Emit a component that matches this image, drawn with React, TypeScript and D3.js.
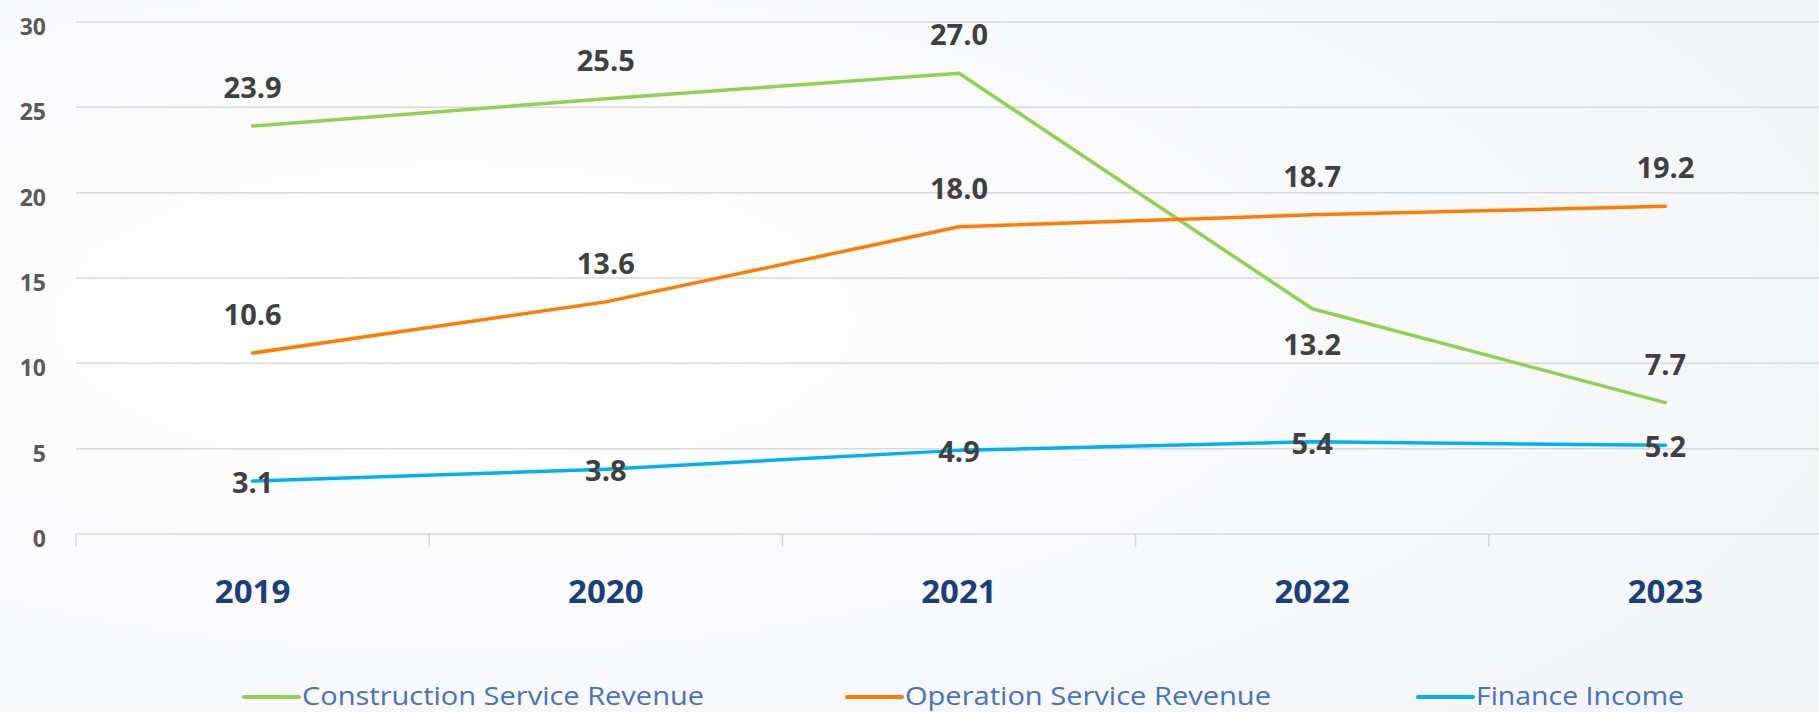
import React, { useEffect, useRef } from 'react';
import * as d3 from 'd3';

// chart data
const years = ['2019', '2020', '2021', '2022', '2023'];
const construction = [23.9, 25.5, 27.0, 13.2, 7.7];
const operation = [10.6, 13.6, 18.0, 18.7, 19.2];
const finance = [3.1, 3.8, 4.9, 5.4, 5.2];
const yTicks = [0, 5, 10, 15, 20, 25, 30];
const seriesNames = ['Construction Service Revenue', 'Operation Service Revenue', 'Finance Income'];

const W = 1819, H = 712;

export default function App() {
  const ref = useRef<SVGSVGElement>(null);

  useEffect(() => {
    const svg = d3.select(ref.current);
    svg.selectAll('*').remove();

    const font = "'Open Sans', 'DejaVu Sans', sans-serif";

    // background
    const defs = svg.append('defs');
    const grad = defs.append('radialGradient')
      .attr('id', 'bg').attr('cx', '0.25').attr('cy', '0.45').attr('r', '0.9');
    grad.append('stop').attr('offset', '0%').attr('stop-color', '#FFFFFF');
    grad.append('stop').attr('offset', '100%').attr('stop-color', '#F3F4F7');
    svg.append('rect').attr('width', W).attr('height', H).attr('fill', 'url(#bg)');

    const x = d3.scaleBand().domain(years).range([76, 1842]).padding(0);
    const y = d3.scaleLinear().domain([0, 30]).range([534, 22]);
    const cx = (d: string) => (x(d) as number) + x.bandwidth() / 2;

    // gridlines
    svg.append('g').selectAll('line').data(yTicks).enter().append('line')
      .attr('x1', 76).attr('x2', W)
      .attr('y1', d => y(d)).attr('y2', d => y(d))
      .attr('stroke', '#D9D9D9').attr('stroke-width', 1.5);

    // category tick marks
    const bounds = years.map(d => x(d) as number).concat([1842]);
    svg.append('g').selectAll('line').data(bounds).enter().append('line')
      .attr('x1', d => d).attr('x2', d => d)
      .attr('y1', y(0)).attr('y2', y(0) + 13)
      .attr('stroke', '#D9D9D9').attr('stroke-width', 1.5);

    // y labels
    svg.append('g').selectAll('text').data(yTicks).enter().append('text')
      .attr('x', 46).attr('y', d => y(d) + 4)
      .attr('text-anchor', 'end').attr('dominant-baseline', 'central')
      .style('font-family', font).style('font-weight', 700).style('font-size', '23px')
      .attr('fill', '#595959')
      .text(d => d);

    // x labels
    svg.append('g').selectAll('text').data(years).enter().append('text')
      .attr('x', d => cx(d)).attr('y', 603)
      .attr('text-anchor', 'middle')
      .style('font-family', font).style('font-weight', 700).style('font-size', '33px')
      .attr('fill', '#1B3F7C')
      .text(d => d);

    const series = [
      { name: seriesNames[0], values: construction, color: '#92D050', pos: ['above', 'above', 'above', 'below', 'above'] },
      { name: seriesNames[1], values: operation, color: '#FF7C00', pos: ['above', 'above', 'above', 'above', 'above'] },
      { name: seriesNames[2], values: finance, color: '#00B0F0', pos: ['center', 'center', 'center', 'center', 'center'] },
    ];

    const line = d3.line<number>()
      .x((d, i) => cx(years[i]))
      .y(d => y(d));

    series.forEach(s => {
      svg.append('path').datum(s.values)
        .attr('d', line)
        .attr('fill', 'none')
        .attr('stroke', s.color)
        .attr('stroke-width', 3.5)
        .attr('stroke-linecap', 'round')
        .attr('stroke-linejoin', 'round');
    });

    // data labels
    series.forEach(s => {
      svg.append('g').selectAll('text').data(s.values).enter().append('text')
        .attr('x', (d, i) => cx(years[i]))
        .attr('y', (d, i) => {
          const p = s.pos[i];
          if (p === 'above') return y(d) - 28;
          if (p === 'below') return y(d) + 46;
          return y(d) + 12;
        })
        .attr('text-anchor', 'middle')
        .style('font-family', font).style('font-weight', 700).style('font-size', '29px')
        .attr('fill', '#404040')
        .text(d => d.toFixed(1));
    });

    // legend
    const legend = [
      { x: 244, len: 402, color: series[0].color, name: series[0].name },
      { x: 847, len: 366, color: series[1].color, name: series[1].name },
      { x: 1418, len: 208, color: series[2].color, name: series[2].name },
    ];
    const lg = svg.append('g');
    legend.forEach(l => {
      lg.append('line')
        .attr('x1', l.x).attr('x2', l.x + 55)
        .attr('y1', 697).attr('y2', 697)
        .attr('stroke', l.color).attr('stroke-width', 4).attr('stroke-linecap', 'round');
      lg.append('text')
        .attr('x', l.x + 58).attr('y', 705)
        .attr('textLength', l.len).attr('lengthAdjust', 'spacingAndGlyphs')
        .style('font-family', font).style('font-size', '25px')
        .attr('fill', '#4472C4')
        .text(l.name);
    });
  }, []);

  return (
    <svg ref={ref} width={W} height={H}
      style={{ position: 'absolute', left: 0, top: 0, display: 'block' }} />
  );
}
